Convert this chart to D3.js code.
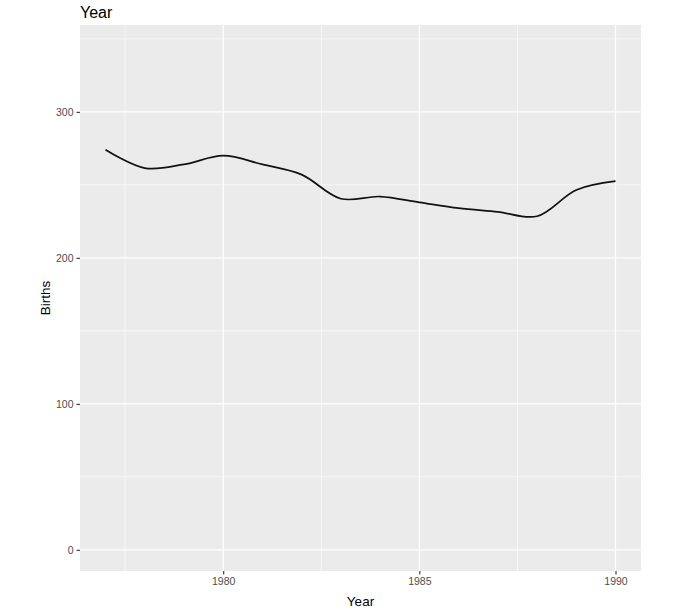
<!DOCTYPE html>
<html>
<head>
<meta charset="utf-8">
<script src="https://cdn.jsdelivr.net/npm/d3@7"></script>
<style>
  body { margin: 0; background: #fff; }
  svg text { font-family: "Liberation Sans", Arial, sans-serif; }
</style>
</head>
<body>
<div class="vis-chart"></div>
<script>
// values
const years = [1977, 1978, 1979, 1980, 1981, 1982, 1983, 1984, 1985, 1986, 1987, 1988, 1989, 1990];
const births = [274, 261.5, 264, 270, 264, 257, 240.5, 242, 238, 234, 231.5, 228.5, 246.5, 252.5];
const xTicks = [1980, 1985, 1990];
const xMinor = [1977.5, 1982.5, 1987.5];
const yTicks = [0, 100, 200, 300];
const yMinor = [50, 150, 250, 350];

const draw = () => {
  const W = 680, H = 616;
  const margin = { top: 25, right: 39, bottom: 45, left: 80 };
  const width = W - margin.left - margin.right;
  const height = H - margin.top - margin.bottom;

  const svg = d3.select(".vis-chart")
    .append("svg")
    .attr("width", W)
    .attr("height", H);

  const g = svg.append("g")
    .attr("transform", "translate(" + margin.left + "," + margin.top + ")");

  // ggplot style 5% expansion
  const xr = d3.extent(years);
  const xpad = (xr[1] - xr[0]) * 0.05;
  const x = d3.scaleLinear().domain([xr[0] - xpad, xr[1] + xpad]).range([0, width]);
  const y = d3.scaleLinear().domain([-14.5, 359.5]).range([height, 0]);

  // panel
  g.append("rect")
    .attr("width", width)
    .attr("height", height)
    .attr("fill", "#EBEBEB");

  // minor grid
  g.selectAll(".ymin").data(yMinor).enter().append("line")
    .attr("x1", 0).attr("x2", width)
    .attr("y1", d => y(d)).attr("y2", d => y(d))
    .attr("stroke", "#fff").attr("stroke-width", 0.6);
  g.selectAll(".xmin").data(xMinor).enter().append("line")
    .attr("y1", 0).attr("y2", height)
    .attr("x1", d => x(d)).attr("x2", d => x(d))
    .attr("stroke", "#fff").attr("stroke-width", 0.6);

  // major grid
  g.selectAll(".ymaj").data(yTicks).enter().append("line")
    .attr("x1", 0).attr("x2", width)
    .attr("y1", d => y(d)).attr("y2", d => y(d))
    .attr("stroke", "#fff").attr("stroke-width", 1.2);
  g.selectAll(".xmaj").data(xTicks).enter().append("line")
    .attr("y1", 0).attr("y2", height)
    .attr("x1", d => x(d)).attr("x2", d => x(d))
    .attr("stroke", "#fff").attr("stroke-width", 1.2);

  // axes
  const xAxis = g.append("g")
    .attr("transform", "translate(0," + height + ")")
    .call(d3.axisBottom(x).tickValues(xTicks).tickFormat(d3.format("d")).tickSize(3.5).tickPadding(3));
  const yAxis = g.append("g")
    .call(d3.axisLeft(y).tickValues(yTicks).tickSize(3.5).tickPadding(3));

  [xAxis, yAxis].forEach(a => {
    a.select(".domain").remove();
    a.selectAll(".tick line").attr("stroke", "#333").attr("stroke-width", 1.1);
    a.selectAll(".tick text")
      .attr("fill", "#4D4D4D")
      .style("font-size", "10.5px")
      .style("font-family", "'Liberation Sans', Arial, sans-serif");
  });

  // line
  const line = d3.line()
    .x((d, i) => x(years[i]))
    .y(d => y(d))
    .curve(d3.curveCatmullRom.alpha(0.5));

  g.append("path")
    .datum(births)
    .attr("fill", "none")
    .attr("stroke", "#111")
    .attr("stroke-width", 1.7)
    .attr("d", line);

  // titles
  svg.append("text")
    .attr("x", margin.left)
    .attr("y", 18)
    .style("font-size", "16px")
    .attr("fill", "#000")
    .text("Year");

  svg.append("text")
    .attr("x", margin.left + width / 2)
    .attr("y", H - 10)
    .style("text-anchor", "middle")
    .style("font-size", "13.5px")
    .attr("fill", "#000")
    .text("Year");

  svg.append("text")
    .attr("transform", "rotate(-90)")
    .attr("x", -(margin.top + height / 2))
    .attr("y", 50)
    .style("text-anchor", "middle")
    .style("font-size", "13.5px")
    .attr("fill", "#000")
    .text("Births");
};

draw();
</script>
</body>
</html>
